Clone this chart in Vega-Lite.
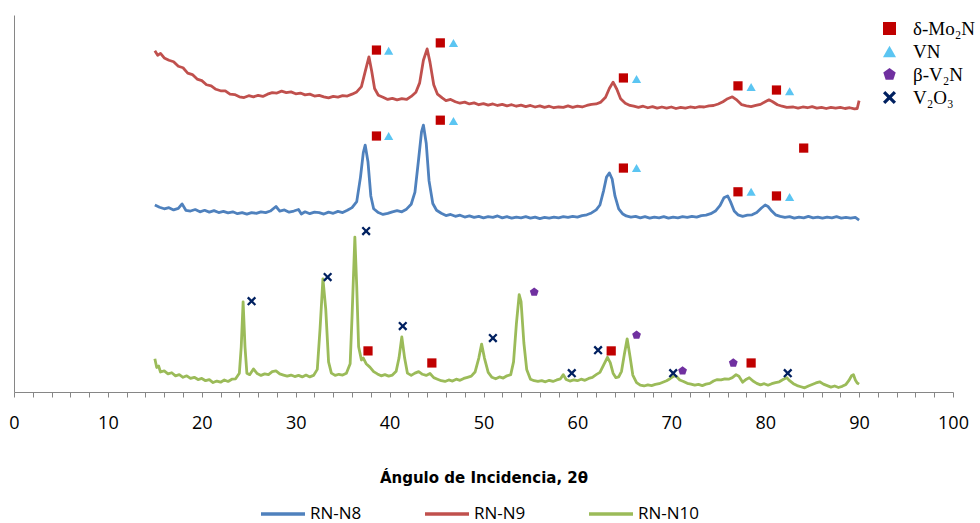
{
"$schema": "https://vega.github.io/schema/vega-lite/v6.json",
"width": 939, "height": 377,
"autosize": {"type": "none"},
"padding": {"left": 14, "top": 15, "right": 27, "bottom": 131},
"background": "white",
"config": {"view": {"stroke": null}},
"datasets": {
"lines": [
{"s":"RN-N9","x":15.0,"y":90.5},{"s":"RN-N9","x":15.3,"y":89.3},{"s":"RN-N9","x":15.6,"y":89.8},{"s":"RN-N9","x":16.0,"y":88.6},{"s":"RN-N9","x":16.5,"y":88.0},{"s":"RN-N9","x":17.0,"y":87.6},{"s":"RN-N9","x":17.5,"y":86.4},{"s":"RN-N9","x":18.0,"y":86.0},{"s":"RN-N9","x":18.5,"y":84.6},{"s":"RN-N9","x":19.0,"y":84.2},{"s":"RN-N9","x":19.5,"y":83.0},{"s":"RN-N9","x":20.0,"y":82.6},{"s":"RN-N9","x":20.5,"y":81.5},{"s":"RN-N9","x":21.0,"y":81.2},{"s":"RN-N9","x":21.5,"y":80.3},{"s":"RN-N9","x":22.0,"y":79.9},{"s":"RN-N9","x":22.5,"y":79.9},{"s":"RN-N9","x":23.0,"y":79.0},{"s":"RN-N9","x":23.5,"y":78.9},{"s":"RN-N9","x":24.0,"y":78.3},{"s":"RN-N9","x":24.5,"y":78.1},{"s":"RN-N9","x":25.0,"y":78.6},{"s":"RN-N9","x":25.5,"y":78.3},{"s":"RN-N9","x":26.0,"y":78.7},{"s":"RN-N9","x":26.5,"y":78.4},{"s":"RN-N9","x":27.0,"y":79.0},{"s":"RN-N9","x":27.5,"y":79.4},{"s":"RN-N9","x":28.0,"y":79.3},{"s":"RN-N9","x":28.5,"y":79.8},{"s":"RN-N9","x":29.0,"y":79.4},{"s":"RN-N9","x":29.5,"y":79.6},{"s":"RN-N9","x":30.0,"y":79.1},{"s":"RN-N9","x":30.5,"y":79.3},{"s":"RN-N9","x":31.0,"y":78.8},{"s":"RN-N9","x":31.5,"y":79.0},{"s":"RN-N9","x":32.0,"y":78.5},{"s":"RN-N9","x":32.5,"y":78.7},{"s":"RN-N9","x":33.0,"y":78.3},{"s":"RN-N9","x":33.5,"y":78.0},{"s":"RN-N9","x":34.0,"y":78.4},{"s":"RN-N9","x":34.5,"y":78.2},{"s":"RN-N9","x":35.0,"y":78.6},{"s":"RN-N9","x":35.5,"y":78.5},{"s":"RN-N9","x":36.0,"y":79.0},{"s":"RN-N9","x":36.5,"y":79.6},{"s":"RN-N9","x":37.0,"y":81.0},{"s":"RN-N9","x":37.4,"y":85.0},{"s":"RN-N9","x":37.8,"y":88.9},{"s":"RN-N9","x":38.1,"y":85.0},{"s":"RN-N9","x":38.4,"y":80.5},{"s":"RN-N9","x":38.8,"y":78.7},{"s":"RN-N9","x":39.3,"y":78.2},{"s":"RN-N9","x":39.8,"y":77.6},{"s":"RN-N9","x":40.3,"y":77.9},{"s":"RN-N9","x":40.8,"y":77.5},{"s":"RN-N9","x":41.3,"y":77.8},{"s":"RN-N9","x":41.8,"y":77.6},{"s":"RN-N9","x":42.3,"y":78.4},{"s":"RN-N9","x":42.8,"y":79.5},{"s":"RN-N9","x":43.2,"y":82.0},{"s":"RN-N9","x":43.6,"y":88.0},{"s":"RN-N9","x":44.0,"y":91.0},{"s":"RN-N9","x":44.3,"y":87.5},{"s":"RN-N9","x":44.7,"y":81.5},{"s":"RN-N9","x":45.1,"y":79.0},{"s":"RN-N9","x":45.6,"y":78.0},{"s":"RN-N9","x":46.0,"y":77.3},{"s":"RN-N9","x":46.5,"y":77.6},{"s":"RN-N9","x":47.0,"y":77.0},{"s":"RN-N9","x":47.5,"y":76.6},{"s":"RN-N9","x":48.0,"y":76.9},{"s":"RN-N9","x":48.5,"y":76.4},{"s":"RN-N9","x":49.0,"y":76.7},{"s":"RN-N9","x":49.5,"y":76.2},{"s":"RN-N9","x":50.0,"y":76.5},{"s":"RN-N9","x":50.5,"y":76.1},{"s":"RN-N9","x":51.0,"y":76.4},{"s":"RN-N9","x":51.5,"y":76.0},{"s":"RN-N9","x":52.0,"y":76.3},{"s":"RN-N9","x":52.5,"y":75.9},{"s":"RN-N9","x":53.0,"y":76.2},{"s":"RN-N9","x":53.5,"y":75.8},{"s":"RN-N9","x":54.0,"y":76.1},{"s":"RN-N9","x":54.5,"y":75.7},{"s":"RN-N9","x":55.0,"y":76.0},{"s":"RN-N9","x":55.5,"y":75.6},{"s":"RN-N9","x":56.0,"y":75.9},{"s":"RN-N9","x":56.5,"y":75.5},{"s":"RN-N9","x":57.0,"y":75.8},{"s":"RN-N9","x":57.5,"y":75.4},{"s":"RN-N9","x":58.0,"y":75.6},{"s":"RN-N9","x":58.5,"y":75.5},{"s":"RN-N9","x":59.0,"y":75.9},{"s":"RN-N9","x":59.5,"y":75.5},{"s":"RN-N9","x":60.0,"y":75.8},{"s":"RN-N9","x":60.5,"y":75.6},{"s":"RN-N9","x":61.0,"y":76.0},{"s":"RN-N9","x":61.5,"y":76.3},{"s":"RN-N9","x":62.0,"y":76.4},{"s":"RN-N9","x":62.5,"y":76.9},{"s":"RN-N9","x":63.0,"y":78.2},{"s":"RN-N9","x":63.4,"y":80.5},{"s":"RN-N9","x":63.8,"y":82.2},{"s":"RN-N9","x":64.2,"y":80.3},{"s":"RN-N9","x":64.6,"y":77.8},{"s":"RN-N9","x":65.1,"y":76.6},{"s":"RN-N9","x":65.6,"y":76.0},{"s":"RN-N9","x":66.0,"y":75.8},{"s":"RN-N9","x":66.5,"y":75.5},{"s":"RN-N9","x":67.0,"y":75.8},{"s":"RN-N9","x":67.5,"y":75.4},{"s":"RN-N9","x":68.0,"y":75.7},{"s":"RN-N9","x":68.5,"y":75.3},{"s":"RN-N9","x":69.0,"y":75.6},{"s":"RN-N9","x":69.5,"y":75.3},{"s":"RN-N9","x":70.0,"y":75.6},{"s":"RN-N9","x":70.5,"y":75.2},{"s":"RN-N9","x":71.0,"y":75.5},{"s":"RN-N9","x":71.5,"y":75.3},{"s":"RN-N9","x":72.0,"y":75.6},{"s":"RN-N9","x":72.5,"y":75.4},{"s":"RN-N9","x":73.0,"y":75.7},{"s":"RN-N9","x":73.5,"y":75.6},{"s":"RN-N9","x":74.0,"y":75.9},{"s":"RN-N9","x":74.5,"y":76.0},{"s":"RN-N9","x":75.0,"y":76.4},{"s":"RN-N9","x":75.5,"y":77.0},{"s":"RN-N9","x":76.0,"y":77.8},{"s":"RN-N9","x":76.5,"y":78.3},{"s":"RN-N9","x":77.0,"y":77.4},{"s":"RN-N9","x":77.5,"y":76.2},{"s":"RN-N9","x":78.0,"y":75.9},{"s":"RN-N9","x":78.5,"y":75.7},{"s":"RN-N9","x":79.0,"y":76.0},{"s":"RN-N9","x":79.5,"y":76.3},{"s":"RN-N9","x":80.0,"y":77.0},{"s":"RN-N9","x":80.4,"y":77.5},{"s":"RN-N9","x":80.8,"y":77.0},{"s":"RN-N9","x":81.3,"y":76.2},{"s":"RN-N9","x":81.8,"y":75.8},{"s":"RN-N9","x":82.3,"y":75.5},{"s":"RN-N9","x":83.0,"y":75.6},{"s":"RN-N9","x":83.5,"y":75.3},{"s":"RN-N9","x":84.0,"y":75.6},{"s":"RN-N9","x":84.5,"y":75.4},{"s":"RN-N9","x":85.0,"y":75.7},{"s":"RN-N9","x":85.5,"y":75.3},{"s":"RN-N9","x":86.0,"y":75.5},{"s":"RN-N9","x":86.5,"y":75.2},{"s":"RN-N9","x":87.0,"y":75.5},{"s":"RN-N9","x":87.5,"y":75.3},{"s":"RN-N9","x":88.0,"y":75.5},{"s":"RN-N9","x":88.5,"y":75.2},{"s":"RN-N9","x":89.0,"y":75.4},{"s":"RN-N9","x":89.5,"y":75.1},{"s":"RN-N9","x":89.8,"y":75.2},{"s":"RN-N9","x":90.0,"y":77.3},
{"s":"RN-N8","x":15.0,"y":49.6},{"s":"RN-N8","x":15.5,"y":49.0},{"s":"RN-N8","x":16.0,"y":48.6},{"s":"RN-N8","x":16.5,"y":48.9},{"s":"RN-N8","x":17.0,"y":48.3},{"s":"RN-N8","x":17.5,"y":48.7},{"s":"RN-N8","x":17.9,"y":49.9},{"s":"RN-N8","x":18.3,"y":48.2},{"s":"RN-N8","x":18.8,"y":48.0},{"s":"RN-N8","x":19.3,"y":48.4},{"s":"RN-N8","x":19.8,"y":47.8},{"s":"RN-N8","x":20.3,"y":48.2},{"s":"RN-N8","x":20.8,"y":47.7},{"s":"RN-N8","x":21.3,"y":48.1},{"s":"RN-N8","x":21.8,"y":47.6},{"s":"RN-N8","x":22.3,"y":47.9},{"s":"RN-N8","x":22.8,"y":47.5},{"s":"RN-N8","x":23.3,"y":47.8},{"s":"RN-N8","x":23.8,"y":47.3},{"s":"RN-N8","x":24.3,"y":47.6},{"s":"RN-N8","x":24.8,"y":47.2},{"s":"RN-N8","x":25.3,"y":47.6},{"s":"RN-N8","x":25.8,"y":47.4},{"s":"RN-N8","x":26.3,"y":47.8},{"s":"RN-N8","x":26.8,"y":47.6},{"s":"RN-N8","x":27.3,"y":48.0},{"s":"RN-N8","x":27.9,"y":49.2},{"s":"RN-N8","x":28.3,"y":48.0},{"s":"RN-N8","x":28.8,"y":48.3},{"s":"RN-N8","x":29.3,"y":47.7},{"s":"RN-N8","x":29.8,"y":48.0},{"s":"RN-N8","x":30.3,"y":48.4},{"s":"RN-N8","x":30.6,"y":47.2},{"s":"RN-N8","x":31.0,"y":47.8},{"s":"RN-N8","x":31.5,"y":47.3},{"s":"RN-N8","x":32.0,"y":47.7},{"s":"RN-N8","x":32.5,"y":47.6},{"s":"RN-N8","x":33.0,"y":47.2},{"s":"RN-N8","x":33.5,"y":47.7},{"s":"RN-N8","x":34.0,"y":47.4},{"s":"RN-N8","x":34.5,"y":47.9},{"s":"RN-N8","x":35.0,"y":47.6},{"s":"RN-N8","x":35.5,"y":48.2},{"s":"RN-N8","x":36.0,"y":48.9},{"s":"RN-N8","x":36.5,"y":50.5},{"s":"RN-N8","x":36.9,"y":57.0},{"s":"RN-N8","x":37.2,"y":63.5},{"s":"RN-N8","x":37.4,"y":65.5},{"s":"RN-N8","x":37.7,"y":61.0},{"s":"RN-N8","x":38.0,"y":52.0},{"s":"RN-N8","x":38.3,"y":48.6},{"s":"RN-N8","x":38.8,"y":47.6},{"s":"RN-N8","x":39.3,"y":47.1},{"s":"RN-N8","x":39.8,"y":47.4},{"s":"RN-N8","x":40.3,"y":47.8},{"s":"RN-N8","x":40.8,"y":48.1},{"s":"RN-N8","x":41.3,"y":47.8},{"s":"RN-N8","x":41.8,"y":48.5},{"s":"RN-N8","x":42.3,"y":49.8},{"s":"RN-N8","x":42.7,"y":53.0},{"s":"RN-N8","x":43.1,"y":62.0},{"s":"RN-N8","x":43.4,"y":69.0},{"s":"RN-N8","x":43.6,"y":70.8},{"s":"RN-N8","x":43.9,"y":66.0},{"s":"RN-N8","x":44.2,"y":56.0},{"s":"RN-N8","x":44.6,"y":50.0},{"s":"RN-N8","x":45.0,"y":48.2},{"s":"RN-N8","x":45.5,"y":47.4},{"s":"RN-N8","x":46.0,"y":46.8},{"s":"RN-N8","x":46.5,"y":47.1},{"s":"RN-N8","x":47.0,"y":46.6},{"s":"RN-N8","x":47.5,"y":46.9},{"s":"RN-N8","x":48.0,"y":46.4},{"s":"RN-N8","x":48.5,"y":46.7},{"s":"RN-N8","x":49.0,"y":46.3},{"s":"RN-N8","x":49.5,"y":46.6},{"s":"RN-N8","x":50.0,"y":46.2},{"s":"RN-N8","x":50.5,"y":46.5},{"s":"RN-N8","x":51.0,"y":46.3},{"s":"RN-N8","x":51.5,"y":46.7},{"s":"RN-N8","x":52.0,"y":46.2},{"s":"RN-N8","x":52.5,"y":46.5},{"s":"RN-N8","x":53.0,"y":46.1},{"s":"RN-N8","x":53.5,"y":46.4},{"s":"RN-N8","x":54.0,"y":46.2},{"s":"RN-N8","x":54.5,"y":46.5},{"s":"RN-N8","x":55.0,"y":46.1},{"s":"RN-N8","x":55.5,"y":46.4},{"s":"RN-N8","x":56.0,"y":46.0},{"s":"RN-N8","x":56.5,"y":46.3},{"s":"RN-N8","x":57.0,"y":46.1},{"s":"RN-N8","x":57.5,"y":46.4},{"s":"RN-N8","x":58.0,"y":46.2},{"s":"RN-N8","x":58.5,"y":46.5},{"s":"RN-N8","x":59.0,"y":46.3},{"s":"RN-N8","x":59.5,"y":46.6},{"s":"RN-N8","x":60.0,"y":46.4},{"s":"RN-N8","x":60.5,"y":46.8},{"s":"RN-N8","x":61.0,"y":47.0},{"s":"RN-N8","x":61.5,"y":47.5},{"s":"RN-N8","x":62.0,"y":48.3},{"s":"RN-N8","x":62.4,"y":49.6},{"s":"RN-N8","x":62.8,"y":53.5},{"s":"RN-N8","x":63.1,"y":57.0},{"s":"RN-N8","x":63.4,"y":58.1},{"s":"RN-N8","x":63.7,"y":56.5},{"s":"RN-N8","x":64.0,"y":52.0},{"s":"RN-N8","x":64.4,"y":48.6},{"s":"RN-N8","x":64.8,"y":47.3},{"s":"RN-N8","x":65.2,"y":46.7},{"s":"RN-N8","x":65.7,"y":46.4},{"s":"RN-N8","x":66.2,"y":46.6},{"s":"RN-N8","x":66.7,"y":46.2},{"s":"RN-N8","x":67.2,"y":46.5},{"s":"RN-N8","x":67.7,"y":46.1},{"s":"RN-N8","x":68.2,"y":46.4},{"s":"RN-N8","x":68.7,"y":46.2},{"s":"RN-N8","x":69.2,"y":46.5},{"s":"RN-N8","x":69.7,"y":46.1},{"s":"RN-N8","x":70.2,"y":46.4},{"s":"RN-N8","x":70.7,"y":46.2},{"s":"RN-N8","x":71.2,"y":46.5},{"s":"RN-N8","x":71.7,"y":46.3},{"s":"RN-N8","x":72.2,"y":46.6},{"s":"RN-N8","x":72.7,"y":46.4},{"s":"RN-N8","x":73.2,"y":46.8},{"s":"RN-N8","x":73.7,"y":46.9},{"s":"RN-N8","x":74.2,"y":47.3},{"s":"RN-N8","x":74.7,"y":48.0},{"s":"RN-N8","x":75.2,"y":49.5},{"s":"RN-N8","x":75.6,"y":51.5},{"s":"RN-N8","x":76.0,"y":52.0},{"s":"RN-N8","x":76.3,"y":50.5},{"s":"RN-N8","x":76.7,"y":48.0},{"s":"RN-N8","x":77.1,"y":47.0},{"s":"RN-N8","x":77.6,"y":46.6},{"s":"RN-N8","x":78.1,"y":46.9},{"s":"RN-N8","x":78.6,"y":47.0},{"s":"RN-N8","x":79.1,"y":47.6},{"s":"RN-N8","x":79.6,"y":48.8},{"s":"RN-N8","x":80.0,"y":49.6},{"s":"RN-N8","x":80.3,"y":49.2},{"s":"RN-N8","x":80.7,"y":48.0},{"s":"RN-N8","x":81.1,"y":47.0},{"s":"RN-N8","x":81.6,"y":46.6},{"s":"RN-N8","x":82.1,"y":46.3},{"s":"RN-N8","x":82.6,"y":46.5},{"s":"RN-N8","x":83.1,"y":46.1},{"s":"RN-N8","x":83.6,"y":46.4},{"s":"RN-N8","x":84.1,"y":46.2},{"s":"RN-N8","x":84.6,"y":46.6},{"s":"RN-N8","x":85.1,"y":46.2},{"s":"RN-N8","x":85.6,"y":46.4},{"s":"RN-N8","x":86.1,"y":46.1},{"s":"RN-N8","x":86.6,"y":46.4},{"s":"RN-N8","x":87.1,"y":46.2},{"s":"RN-N8","x":87.6,"y":46.5},{"s":"RN-N8","x":88.1,"y":46.1},{"s":"RN-N8","x":88.6,"y":46.3},{"s":"RN-N8","x":89.1,"y":46.1},{"s":"RN-N8","x":89.6,"y":46.3},{"s":"RN-N8","x":90.0,"y":45.6},
{"s":"RN-N10","x":15.0,"y":8.8},{"s":"RN-N10","x":15.2,"y":6.5},{"s":"RN-N10","x":15.4,"y":6.9},{"s":"RN-N10","x":15.6,"y":5.3},{"s":"RN-N10","x":16.0,"y":5.6},{"s":"RN-N10","x":16.4,"y":4.8},{"s":"RN-N10","x":16.8,"y":5.1},{"s":"RN-N10","x":17.2,"y":4.3},{"s":"RN-N10","x":17.6,"y":4.6},{"s":"RN-N10","x":18.0,"y":3.9},{"s":"RN-N10","x":18.4,"y":4.3},{"s":"RN-N10","x":18.8,"y":3.6},{"s":"RN-N10","x":19.2,"y":3.9},{"s":"RN-N10","x":19.6,"y":3.3},{"s":"RN-N10","x":20.0,"y":3.6},{"s":"RN-N10","x":20.4,"y":3.0},{"s":"RN-N10","x":20.8,"y":3.3},{"s":"RN-N10","x":21.2,"y":2.5},{"s":"RN-N10","x":21.6,"y":2.9},{"s":"RN-N10","x":22.0,"y":2.6},{"s":"RN-N10","x":22.4,"y":3.2},{"s":"RN-N10","x":22.8,"y":2.8},{"s":"RN-N10","x":23.2,"y":3.4},{"s":"RN-N10","x":23.6,"y":3.5},{"s":"RN-N10","x":24.0,"y":5.0},{"s":"RN-N10","x":24.2,"y":12.0},{"s":"RN-N10","x":24.4,"y":23.9},{"s":"RN-N10","x":24.6,"y":12.0},{"s":"RN-N10","x":24.8,"y":5.0},{"s":"RN-N10","x":25.1,"y":4.6},{"s":"RN-N10","x":25.5,"y":6.1},{"s":"RN-N10","x":25.9,"y":4.9},{"s":"RN-N10","x":26.3,"y":4.4},{"s":"RN-N10","x":26.7,"y":4.8},{"s":"RN-N10","x":27.1,"y":4.6},{"s":"RN-N10","x":27.5,"y":5.4},{"s":"RN-N10","x":27.9,"y":5.6},{"s":"RN-N10","x":28.3,"y":4.8},{"s":"RN-N10","x":28.7,"y":4.5},{"s":"RN-N10","x":29.1,"y":4.2},{"s":"RN-N10","x":29.5,"y":4.5},{"s":"RN-N10","x":29.9,"y":4.1},{"s":"RN-N10","x":30.3,"y":4.4},{"s":"RN-N10","x":30.7,"y":4.0},{"s":"RN-N10","x":31.1,"y":4.5},{"s":"RN-N10","x":31.5,"y":4.0},{"s":"RN-N10","x":31.9,"y":4.4},{"s":"RN-N10","x":32.3,"y":6.0},{"s":"RN-N10","x":32.6,"y":17.0},{"s":"RN-N10","x":32.9,"y":30.0},{"s":"RN-N10","x":33.2,"y":22.0},{"s":"RN-N10","x":33.5,"y":8.0},{"s":"RN-N10","x":33.8,"y":5.0},{"s":"RN-N10","x":34.2,"y":4.4},{"s":"RN-N10","x":34.6,"y":4.7},{"s":"RN-N10","x":35.0,"y":4.5},{"s":"RN-N10","x":35.4,"y":5.0},{"s":"RN-N10","x":35.8,"y":7.5},{"s":"RN-N10","x":36.0,"y":20.0},{"s":"RN-N10","x":36.3,"y":41.1},{"s":"RN-N10","x":36.5,"y":28.0},{"s":"RN-N10","x":36.7,"y":12.0},{"s":"RN-N10","x":37.0,"y":8.5},{"s":"RN-N10","x":37.2,"y":9.0},{"s":"RN-N10","x":37.5,"y":7.5},{"s":"RN-N10","x":37.9,"y":6.6},{"s":"RN-N10","x":38.3,"y":5.4},{"s":"RN-N10","x":38.7,"y":4.8},{"s":"RN-N10","x":39.1,"y":4.3},{"s":"RN-N10","x":39.5,"y":4.6},{"s":"RN-N10","x":39.9,"y":4.2},{"s":"RN-N10","x":40.3,"y":4.5},{"s":"RN-N10","x":40.7,"y":5.5},{"s":"RN-N10","x":41.0,"y":9.0},{"s":"RN-N10","x":41.3,"y":14.6},{"s":"RN-N10","x":41.6,"y":9.0},{"s":"RN-N10","x":41.9,"y":5.0},{"s":"RN-N10","x":42.3,"y":4.4},{"s":"RN-N10","x":42.7,"y":5.0},{"s":"RN-N10","x":43.1,"y":5.4},{"s":"RN-N10","x":43.5,"y":4.7},{"s":"RN-N10","x":43.9,"y":4.4},{"s":"RN-N10","x":44.3,"y":4.9},{"s":"RN-N10","x":44.7,"y":3.8},{"s":"RN-N10","x":45.1,"y":3.4},{"s":"RN-N10","x":45.5,"y":3.0},{"s":"RN-N10","x":45.9,"y":2.8},{"s":"RN-N10","x":46.3,"y":3.2},{"s":"RN-N10","x":46.7,"y":2.9},{"s":"RN-N10","x":47.1,"y":3.4},{"s":"RN-N10","x":47.5,"y":3.1},{"s":"RN-N10","x":47.9,"y":3.6},{"s":"RN-N10","x":48.3,"y":3.9},{"s":"RN-N10","x":48.7,"y":4.2},{"s":"RN-N10","x":49.1,"y":5.3},{"s":"RN-N10","x":49.5,"y":9.0},{"s":"RN-N10","x":49.8,"y":12.7},{"s":"RN-N10","x":50.1,"y":9.0},{"s":"RN-N10","x":50.5,"y":5.2},{"s":"RN-N10","x":50.9,"y":3.9},{"s":"RN-N10","x":51.3,"y":3.5},{"s":"RN-N10","x":51.7,"y":4.0},{"s":"RN-N10","x":52.1,"y":3.7},{"s":"RN-N10","x":52.5,"y":4.3},{"s":"RN-N10","x":52.9,"y":4.6},{"s":"RN-N10","x":53.2,"y":8.0},{"s":"RN-N10","x":53.5,"y":18.0},{"s":"RN-N10","x":53.8,"y":25.8},{"s":"RN-N10","x":54.0,"y":24.0},{"s":"RN-N10","x":54.3,"y":13.0},{"s":"RN-N10","x":54.6,"y":6.0},{"s":"RN-N10","x":55.0,"y":3.4},{"s":"RN-N10","x":55.4,"y":3.0},{"s":"RN-N10","x":55.8,"y":2.8},{"s":"RN-N10","x":56.2,"y":3.0},{"s":"RN-N10","x":56.6,"y":2.7},{"s":"RN-N10","x":57.0,"y":3.1},{"s":"RN-N10","x":57.4,"y":2.8},{"s":"RN-N10","x":57.8,"y":3.2},{"s":"RN-N10","x":58.2,"y":3.5},{"s":"RN-N10","x":58.5,"y":4.6},{"s":"RN-N10","x":58.8,"y":3.3},{"s":"RN-N10","x":59.2,"y":2.9},{"s":"RN-N10","x":59.6,"y":3.2},{"s":"RN-N10","x":60.0,"y":3.0},{"s":"RN-N10","x":60.4,"y":3.4},{"s":"RN-N10","x":60.8,"y":3.1},{"s":"RN-N10","x":61.2,"y":3.6},{"s":"RN-N10","x":61.6,"y":3.9},{"s":"RN-N10","x":62.0,"y":4.6},{"s":"RN-N10","x":62.4,"y":5.2},{"s":"RN-N10","x":62.8,"y":7.2},{"s":"RN-N10","x":63.2,"y":9.2},{"s":"RN-N10","x":63.5,"y":7.8},{"s":"RN-N10","x":63.8,"y":5.0},{"s":"RN-N10","x":64.1,"y":3.8},{"s":"RN-N10","x":64.4,"y":4.0},{"s":"RN-N10","x":64.7,"y":5.5},{"s":"RN-N10","x":65.0,"y":10.0},{"s":"RN-N10","x":65.3,"y":14.1},{"s":"RN-N10","x":65.6,"y":9.5},{"s":"RN-N10","x":65.9,"y":4.5},{"s":"RN-N10","x":66.3,"y":2.5},{"s":"RN-N10","x":66.7,"y":1.8},{"s":"RN-N10","x":67.1,"y":1.6},{"s":"RN-N10","x":67.5,"y":1.9},{"s":"RN-N10","x":67.9,"y":1.7},{"s":"RN-N10","x":68.3,"y":2.0},{"s":"RN-N10","x":68.7,"y":2.2},{"s":"RN-N10","x":69.1,"y":2.6},{"s":"RN-N10","x":69.5,"y":3.0},{"s":"RN-N10","x":69.9,"y":3.6},{"s":"RN-N10","x":70.3,"y":4.3},{"s":"RN-N10","x":70.6,"y":4.0},{"s":"RN-N10","x":70.9,"y":3.2},{"s":"RN-N10","x":71.3,"y":2.8},{"s":"RN-N10","x":71.7,"y":2.3},{"s":"RN-N10","x":72.1,"y":2.1},{"s":"RN-N10","x":72.5,"y":1.8},{"s":"RN-N10","x":72.9,"y":2.0},{"s":"RN-N10","x":73.3,"y":1.7},{"s":"RN-N10","x":73.7,"y":2.1},{"s":"RN-N10","x":74.1,"y":2.3},{"s":"RN-N10","x":74.5,"y":2.9},{"s":"RN-N10","x":74.9,"y":3.3},{"s":"RN-N10","x":75.3,"y":3.2},{"s":"RN-N10","x":75.7,"y":3.5},{"s":"RN-N10","x":76.1,"y":3.4},{"s":"RN-N10","x":76.5,"y":3.8},{"s":"RN-N10","x":76.9,"y":4.6},{"s":"RN-N10","x":77.2,"y":4.2},{"s":"RN-N10","x":77.6,"y":2.6},{"s":"RN-N10","x":78.0,"y":3.4},{"s":"RN-N10","x":78.3,"y":3.8},{"s":"RN-N10","x":78.7,"y":2.9},{"s":"RN-N10","x":79.1,"y":2.3},{"s":"RN-N10","x":79.5,"y":1.9},{"s":"RN-N10","x":79.9,"y":2.2},{"s":"RN-N10","x":80.3,"y":1.8},{"s":"RN-N10","x":80.7,"y":2.2},{"s":"RN-N10","x":81.1,"y":2.5},{"s":"RN-N10","x":81.5,"y":2.7},{"s":"RN-N10","x":81.9,"y":3.3},{"s":"RN-N10","x":82.3,"y":3.8},{"s":"RN-N10","x":82.6,"y":3.0},{"s":"RN-N10","x":83.0,"y":2.2},{"s":"RN-N10","x":83.4,"y":1.7},{"s":"RN-N10","x":83.8,"y":1.4},{"s":"RN-N10","x":84.2,"y":1.1},{"s":"RN-N10","x":84.6,"y":1.6},{"s":"RN-N10","x":85.0,"y":2.0},{"s":"RN-N10","x":85.4,"y":2.4},{"s":"RN-N10","x":85.8,"y":2.7},{"s":"RN-N10","x":86.2,"y":2.1},{"s":"RN-N10","x":86.6,"y":1.7},{"s":"RN-N10","x":87.0,"y":1.3},{"s":"RN-N10","x":87.4,"y":1.6},{"s":"RN-N10","x":87.8,"y":1.2},{"s":"RN-N10","x":88.2,"y":1.5},{"s":"RN-N10","x":88.6,"y":2.0},{"s":"RN-N10","x":88.9,"y":3.0},{"s":"RN-N10","x":89.2,"y":4.3},{"s":"RN-N10","x":89.4,"y":4.6},{"s":"RN-N10","x":89.6,"y":3.2},{"s":"RN-N10","x":89.8,"y":2.4},{"s":"RN-N10","x":90.0,"y":2.1}
],
"marks": [
{"p":"δ-Mo₂N","x":38.6,"y":90.7},{"p":"VN","x":39.9,"y":90.5},{"p":"δ-Mo₂N","x":45.4,"y":92.6},{"p":"VN","x":46.8,"y":92.6},{"p":"δ-Mo₂N","x":64.9,"y":83.3},{"p":"VN","x":66.3,"y":83.0},{"p":"δ-Mo₂N","x":77.1,"y":81.2},{"p":"VN","x":78.5,"y":80.9},{"p":"δ-Mo₂N","x":81.2,"y":80.1},{"p":"VN","x":82.6,"y":79.8},
{"p":"δ-Mo₂N","x":38.6,"y":67.9},{"p":"VN","x":39.9,"y":67.9},{"p":"δ-Mo₂N","x":45.4,"y":72.1},{"p":"VN","x":46.8,"y":71.9},{"p":"δ-Mo₂N","x":64.9,"y":59.4},{"p":"VN","x":66.3,"y":59.4},{"p":"δ-Mo₂N","x":77.1,"y":53.1},{"p":"VN","x":78.5,"y":53.1},{"p":"δ-Mo₂N","x":81.2,"y":52.0},{"p":"VN","x":82.6,"y":51.7},{"p":"δ-Mo₂N","x":84.1,"y":64.7},
{"p":"V₂O₃","x":25.3,"y":24.1},{"p":"V₂O₃","x":33.4,"y":30.5},{"p":"V₂O₃","x":37.5,"y":42.7},{"p":"V₂O₃","x":41.4,"y":17.5},{"p":"δ-Mo₂N","x":37.7,"y":10.9},{"p":"δ-Mo₂N","x":44.5,"y":7.7},{"p":"V₂O₃","x":51.0,"y":14.3},{"p":"β-V₂N","x":55.4,"y":26.5},{"p":"V₂O₃","x":59.4,"y":5.0},{"p":"V₂O₃","x":62.2,"y":11.1},{"p":"δ-Mo₂N","x":63.6,"y":10.9},{"p":"β-V₂N","x":66.3,"y":15.1},{"p":"V₂O₃","x":70.2,"y":5.0},{"p":"β-V₂N","x":71.2,"y":5.6},{"p":"β-V₂N","x":76.6,"y":7.7},{"p":"δ-Mo₂N","x":78.5,"y":7.7},{"p":"V₂O₃","x":82.4,"y":5.0}
]
},
"encoding": {
"x": {"field": "x", "type": "quantitative", "scale": {"domain": [0, 100], "nice": false},
"axis": {"values": [0,2,4,6,8,10,12,14,16,18,20,22,24,26,28,30,32,34,36,38,40,42,44,46,48,50,52,54,56,58,60,62,64,66,68,70,72,74,76,78,80,82,84,86,88,90,92,94,96,98,100],
"labelExpr": "datum.value % 10 === 0 ? datum.label : ''", "labelOverlap": false, "labelFlush": false, "labelBound": false, "labelSeparation": 0,
"grid": false, "domainColor": "#868686", "tickColor": "#868686", "tickSize": 5,
"labelFont": "Open Sans", "labelFontSize": 18, "labelColor": "#000000", "labelPadding": 17,
"title": "Ángulo de Incidencia, 2θ", "titleFont": "DejaVu Sans", "titleFontSize": 15, "titleFontWeight": "bold", "titleColor": "#000000", "titlePadding": 38}},
"y": {"field": "y", "type": "quantitative", "scale": {"domain": [0, 100], "nice": false},
"axis": {"title": null, "labels": false, "ticks": false, "grid": false, "domainColor": "#868686"}}
},
"layer": [
{
"data": {"name": "lines"},
"mark": {"type": "line", "strokeWidth": 2.8, "strokeJoin": "round"},
"encoding": {
"stroke": {"field": "s", "type": "nominal",
"scale": {"domain": ["RN-N8", "RN-N9", "RN-N10"], "range": ["#4F81BD", "#C0504D", "#9BBB59"]},
"legend": {"orient": "none", "legendX": 245, "legendY": 475, "direction": "horizontal", "title": null,
"symbolType": "stroke", "symbolSize": 1936, "symbolStrokeWidth": 3.5, "labelFont": "Open Sans", "labelFontSize": 17,
"labelColor": "#000000", "columnPadding": 56, "labelOffset": 3, "padding": 0}}
}
},
{
"data": {"name": "marks"},
"mark": {"type": "point", "filled": true, "size": 85, "strokeWidth": 0, "opacity": 1},
"encoding": {
"shape": {"field": "p", "type": "nominal",
"scale": {"domain": ["δ-Mo₂N", "VN", "β-V₂N", "V₂O₃"], "range": ["square", "triangle-up", "M0,-1L0.951,-0.309L0.588,0.809L-0.588,0.809L-0.951,-0.309Z", "M-1,-0.65L-0.65,-1L0,-0.35L0.65,-1L1,-0.65L0.35,0L1,0.65L0.65,1L0,0.35L-0.65,1L-1,0.65L-0.35,0Z"]},
"legend": {"orient": "none", "legendX": 866, "legendY": 4, "title": null, "symbolSize": 170, "symbolStrokeWidth": 0,
"labelFont": "Liberation Serif", "labelFontSize": 19, "labelColor": "#000000", "rowPadding": 3, "labelOffset": 14, "padding": 0}},
"fill": {"field": "p", "type": "nominal",
"scale": {"domain": ["δ-Mo₂N", "VN", "β-V₂N", "V₂O₃"], "range": ["#C00000", "#5BC5F2", "#7030A0", "#002060"]},
"legend": {"orient": "none", "legendX": 866, "legendY": 4, "title": null, "symbolSize": 170, "symbolStrokeWidth": 0,
"labelFont": "Liberation Serif", "labelFontSize": 19, "labelColor": "#000000", "rowPadding": 3, "labelOffset": 14, "padding": 0}}
}
}
]
}
